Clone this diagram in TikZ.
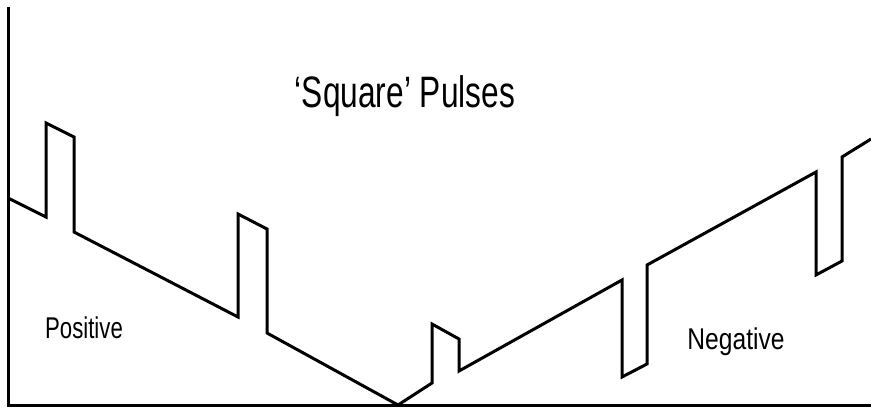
\documentclass[tikz,border=0pt]{standalone}
\usepackage{fontspec}
\setmainfont{Liberation Sans}
\begin{document}
\begin{tikzpicture}[x=1pt,y=-1pt,
  axisline/.style={line width=3pt,line cap=rect},
  wave/.style={line width=3pt,line join=miter},
  lbl/.style={inner sep=0pt,anchor=center}]
\useasboundingbox (0,0) rectangle (871,410);
% axes
\coordinate (top) at (8,8);
\coordinate (orig) at (8,405);
\coordinate (right) at (871,405);
\draw[axisline] (top) -- (orig) -- (right);
% waveform
\draw[wave] (8,198) -- (46,217) -- (46,123) -- (74,137) -- (74,232)
  -- (238,317) -- (238,214) -- (267,229) -- (267,333) -- (398,405)
  -- (432,383) -- (432,324) -- (459,339) -- (459,371) -- (622,280)
  -- (622,377) -- (647,364) -- (647,265) -- (816,172) -- (816,275)
  -- (842,261) -- (842,157) -- (871,139);
% labels
\node[lbl] (title) at (405,96) {\fontsize{44}{48}\selectfont\scalebox{0.72}[1]{`Square' Pulses}};
\node[lbl] (pos) at (84,328) {\fontsize{30}{34}\selectfont\scalebox{0.74}[1]{Positive}};
\node[lbl] (neg) at (736,342) {\fontsize{30}{34}\selectfont\scalebox{0.82}[1]{Negative}};
\end{tikzpicture}
\end{document}
